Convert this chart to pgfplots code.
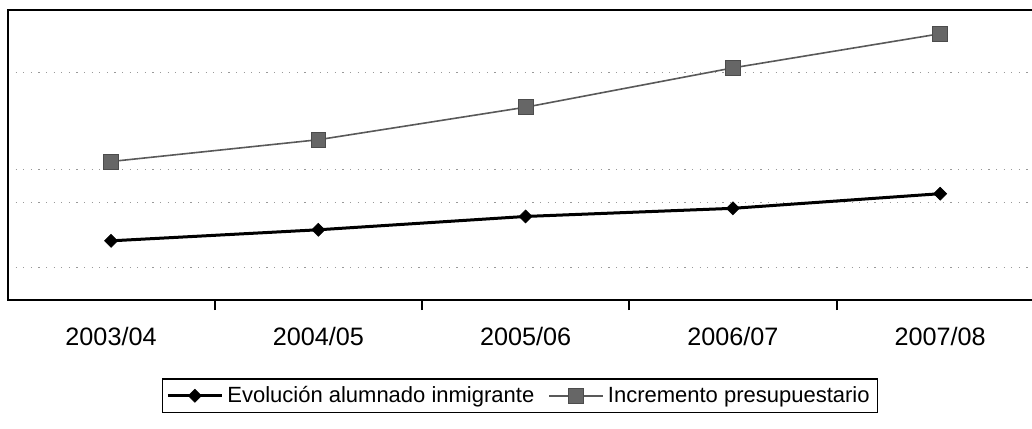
\documentclass[border=0pt]{standalone}
\usepackage{fontspec}
\setmainfont{Liberation Sans}
\usepackage{pgfplots}
\pgfplotsset{compat=1.18}
\begin{document}
\begin{tikzpicture}
\path[use as bounding box] (-4pt,-64pt) rectangle (512pt,150pt);
\begin{axis}[
  at={(0,0)}, anchor=south west,
  scale only axis,
  width=512pt, height=145pt,
  xmin=-0.497, xmax=4.443,
  ymin=0, ymax=8.92,
  axis line style={draw=none},
  xtick={0,1,2,3,4},
  xticklabels={2003/04,2004/05,2005/06,2006/07,2007/08},
  minor xtick={0.5,1.5,2.5,3.5},
  xtick pos=bottom,
  tick align=outside,
  major tick length=0pt,
  minor tick length=5pt,
  minor x tick style={line width=1pt, black},
  xticklabel style={font=\fontsize{12.6}{14}\selectfont, yshift=-10pt},
  ytick={1,3,4,7},
  yticklabels={},
  ytick style={draw=none},
  ymajorgrids,
  grid style={gray!80, line width=0.5pt, dash pattern=on 0.6pt off 3.2pt},
  legend columns=2,
  legend style={at={(0.5,-0.27)}, anchor=north, draw=black, line width=0.8pt,
    font=\fontsize{11}{13}\selectfont, inner xsep=2pt, inner ysep=1.5pt,
    /tikz/every even column/.append style={column sep=5pt}},
  legend image code/.code={\draw[mark repeat=2,mark phase=2] plot coordinates {(0cm,0cm) (13.5pt,0cm) (27pt,0cm)};},
  clip=false,
]
\addplot[black, line width=1.5pt, mark=square*, mark size=2.3pt, mark options={rotate=45, fill=black, draw=black, line width=0.3pt}]
  coordinates {(0,1.82) (1,2.16) (2,2.57) (3,2.82) (4,3.27)};
\addlegendentry{Evolución alumnado inmigrante}
\addplot[black!65, line width=0.8pt, mark=square*, mark size=3.7pt, mark options={fill=black!60, draw=black!70, line width=0.4pt}]
  coordinates {(0,4.26) (1,4.93) (2,5.93) (3,7.14) (4,8.19)};
\addlegendentry{Incremento presupuestario}
\draw[line width=1pt, black] (rel axis cs:1,1) -- (rel axis cs:0,1) -- (rel axis cs:0,0) -- (rel axis cs:1,0);
\end{axis}
\end{tikzpicture}
\end{document}
